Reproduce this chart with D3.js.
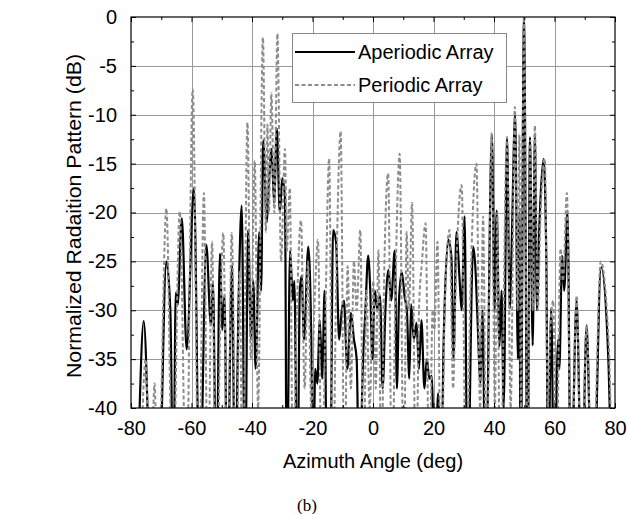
<!DOCTYPE html>
<html>
<head>
<meta charset="utf-8">
<script src="https://cdn.jsdelivr.net/npm/d3@7"></script>
<style>
  body { margin: 0; background: #fff; }
  svg { display: block; }
  text { font-family: "Liberation Sans", Arial, sans-serif; fill: #000; }
</style>
</head>
<body>
<svg id="chart" width="627" height="514"></svg>
<script>
// tick values
const xTicks = [-80, -60, -40, -20, 0, 20, 40, 60, 80]
const yTicks = [0, -5, -10, -15, -20, -25, -30, -35, -40]
const seriesNames = ['Aperiodic Array', 'Periodic Array']

// [azimuth deg, normalized pattern dB] (nulls below -40 are clipped)
const aperiodic = [
  [-80,-44],[-78.6,-50],[-75.8,-31.1],[-73.2,-50],[-70.9,-50],[-68.3,-25],[-67,-30],[-66,-50],
  [-65.2,-28.2],[-64.6,-29.5],[-63.2,-20.6],[-61.6,-34],[-59.2,-17.5],[-57.3,-50],
  [-55.1,-23.3],[-53.6,-31.5],[-52.9,-27.2],[-51.8,-50],[-50.6,-24.2],[-49.8,-32],[-49.1,-28.5],[-48.2,-50],
  [-46.6,-25.4],[-45.6,-50],[-44.4,-28.5],[-43.4,-19.3],[-42.3,-50],[-41.3,-21.8],[-40.3,-33],[-39.6,-27],[-38.8,-36],
  [-37.6,-22],[-37,-28],[-36.3,-12.6],[-35.1,-21],[-34.4,-17],[-33.5,-13.5],[-32.7,-19],[-31.8,-11.4],
  [-30.8,-20],[-30,-16.5],[-29.1,-18.5],[-28.5,-50],[-27.4,-23.9],[-26.5,-29],[-26,-27],[-25,-50],
  [-24.2,-28],[-23.6,-26.5],[-22.8,-33],[-21.4,-23.5],[-20.3,-35],[-19.8,-50],[-19.1,-36],[-18.4,-37.5],
  [-17.6,-31],[-16.8,-37],[-16,-28],[-15.2,-50],[-14.2,-50],[-13.2,-21.8],[-12.2,-23],[-11.2,-33],
  [-10.3,-30],[-9.6,-29],[-8.5,-36],[-7.3,-30.3],[-6.3,-33],[-5.4,-35],[-4.5,-50],[-3.4,-36],[-2.5,-30],
  [-1.6,-24.4],[-0.9,-28],[-0.2,-35],[0.6,-28],[1.5,-30],[2.3,-28.5],[3.2,-38],[4.1,-30],[5.1,-25.9],
  [6,-29],[7.2,-23.9],[7.9,-38],[8.6,-29],[9.5,-26.1],[10.5,-28.7],[11.2,-30],[12,-37],[12.6,-29.4],
  [13.5,-33],[14.4,-31.3],[15.2,-36],[16,-31],[17,-38],[17.8,-35],[18.6,-37],[19.4,-36.7],[20.5,-50],
  [21.5,-38.5],[22.5,-50],[23.3,-34],[24.9,-22.8],[25.9,-24.5],[26.6,-35],[27.6,-22],[28.6,-26.7],
  [29.3,-30],[30.3,-20.4],[31.2,-50],[33.1,-23.5],[33.8,-25.4],[34.6,-31.3],[35.5,-37.4],[36.2,-30],
  [37.2,-50],[39.3,-12],[40.2,-30],[40.9,-19.8],[41.8,-33.7],[42.5,-28],[43.2,-40],[44.3,-12.3],
  [45.2,-29.8],[45.8,-24],[47,-9.9],[47.9,-35],[48.4,-20],[48.8,-50],[49.9,-0.1],[51.1,-50],
  [51.9,-12.3],[52.8,-33.6],[53.5,-12],[54.2,-30],[55,-21.4],[56.4,-14.5],[57.3,-25],[57.9,-50],
  [58.9,-29.8],[59.9,-50],[61.2,-33],[61.6,-36],[62.5,-24.4],[63.2,-28],[64.3,-19.8],[65.4,-50],
  [67.3,-29],[69,-50],[70.6,-31.6],[72.4,-50],[72.8,-50],[75.4,-25.6],[77.8,-35],[79.3,-50],[80,-46]
]

const periodic = [
  [-80,-50],[-77.6,-50],[-75.2,-35],[-73.6,-50],[-72.2,-37.5],[-71.1,-50],[-68.3,-19.6],[-66.2,-50],
  [-63.9,-19.9],[-61.7,-50],[-59.6,-7.4],[-57.6,-50],[-55.9,-18],[-54.6,-50],[-53.2,-23],[-52,-50],
  [-49.5,-22.1],[-48.1,-50],[-46.7,-22.1],[-45.2,-50],[-44.1,-26],[-43.1,-50],[-41.5,-10.8],[-40.4,-35],
  [-39.1,-14.7],[-38,-40],[-36.4,-2.1],[-35.4,-22],[-34.9,-11],[-34.4,-20],[-33.6,-7.8],[-32.6,-20],
  [-31.6,-1.7],[-30.4,-25],[-29.1,-13.5],[-28.5,-24],[-27.5,-17.5],[-26.4,-50],[-25.3,-32],[-23.8,-20.8],
  [-22.6,-38],[-21.5,-25],[-20.4,-40],[-19.4,-30],[-18.2,-22.8],[-16.9,-50],[-15.8,-32],[-14.5,-14.5],
  [-13.3,-50],[-12.2,-28],[-10.7,-11.7],[-9.4,-50],[-8.4,-25.5],[-7.3,-38],[-6.3,-25],[-5.4,-30],
  [-4.2,-21.8],[-3.1,-50],[-2.2,-28],[-1.1,-40],[0.1,-27],[0.9,-38],[1.8,-23.9],[2.8,-50],[3.6,-28],
  [5,-16],[6.3,-50],[7.3,-30],[8.8,-14],[10.2,-50],[11.1,-22],[11.9,-30],[12.9,-19],[14.2,-50],
  [15.2,-30],[16.2,-25],[17.4,-21.1],[18.6,-50],[19.7,-30],[20.3,-32],[21.3,-23],[22.5,-50],[23.7,-30],
  [25.3,-21.8],[26.5,-38],[27.3,-28],[29.3,-17.2],[30.8,-50],[32.2,-28],[34.2,-15],[35.4,-40],
  [36.4,-20.4],[37.5,-50],[39.2,-11.9],[40.3,-40],[41.1,-20],[42,-50],[44.3,-12.3],[45.5,-40],
  [46.9,-9.2],[47.8,-30],[48.4,-12],[48.9,-40],[49.9,0],[51.2,-50],[52,-12.6],[52.8,-30],[53.5,-11.1],
  [54.5,-30],[55.2,-22],[56.8,-14.5],[57.8,-40],[58.6,-32],[59.6,-29],[60.5,-50],[62,-23.7],[62.8,-27],
  [64.1,-18],[65.5,-50],[67.3,-28.5],[68.9,-50],[70.6,-31.5],[72.5,-50],[75.3,-25],[78,-34],[79.5,-50],[80,-50]
]

const svg = d3.select('#chart')
const plotLeft = 131, plotRight = 615, plotTop = 17, plotBottom = 408

const x = d3.scaleLinear().domain([-80, 80]).range([plotLeft, plotRight])
const y = d3.scaleLinear().domain([-40, 0]).range([plotBottom, plotTop])

// grid
const grid = svg.append('g').attr('stroke', '#9a9a9a').attr('stroke-width', 1)
grid.selectAll('line.vx')
  .data(xTicks.slice(1, -1))
  .enter().append('line')
  .attr('x1', d => Math.round(x(d)) + 0.5).attr('x2', d => Math.round(x(d)) + 0.5)
  .attr('y1', plotTop).attr('y2', plotBottom)
grid.selectAll('line.hy')
  .data(yTicks.slice(1, -1))
  .enter().append('line')
  .attr('y1', d => Math.round(y(d)) + 0.5).attr('y2', d => Math.round(y(d)) + 0.5)
  .attr('x1', plotLeft).attr('x2', plotRight)

// curves
svg.append('clipPath').attr('id', 'plotclip')
  .append('rect').attr('x', plotLeft).attr('y', plotTop - 2)
  .attr('width', plotRight - plotLeft).attr('height', plotBottom - plotTop + 2)

const line = d3.line()
  .x(d => x(d[0]))
  .y(d => y(d[1]))
  .curve(d3.curveMonotoneX)

const curves = svg.append('g').attr('clip-path', 'url(#plotclip)')
curves.append('path')
  .datum(aperiodic)
  .attr('fill', 'none')
  .attr('stroke', '#000')
  .attr('stroke-width', 2.2)
  .attr('d', line)
curves.append('path')
  .datum(periodic)
  .attr('fill', 'none')
  .attr('stroke', '#8c8c8c')
  .attr('stroke-width', 2)
  .attr('stroke-dasharray', '4,2.5')
  .attr('d', line)

// axes, ticks pointing inward
const xMinor = d3.range(-70, 80, 20)
const yMinor = d3.range(-37.5, 0, 5)
const plain = d => String(d)   // hyphen minus like the original

function styleAxis(g) {
  g.select('.domain').remove()
  g.selectAll('line').attr('stroke', '#000')
  g.selectAll('text').style('font-size', '20px').attr('font-family', null)
}

svg.append('g')
  .attr('transform', `translate(0,${plotBottom})`)
  .call(d3.axisBottom(x).tickValues(xTicks).tickFormat(plain).tickSize(-5).tickPadding(13))
  .call(styleAxis)
svg.append('g')
  .attr('transform', `translate(0,${plotBottom})`)
  .call(d3.axisBottom(x).tickValues(xMinor).tickSize(-3).tickFormat(''))
  .call(styleAxis)
svg.append('g')
  .attr('transform', `translate(0,${plotTop})`)
  .call(d3.axisTop(x).tickValues(xTicks).tickSize(-5).tickFormat(''))
  .call(styleAxis)
svg.append('g')
  .attr('transform', `translate(0,${plotTop})`)
  .call(d3.axisTop(x).tickValues(xMinor).tickSize(-3).tickFormat(''))
  .call(styleAxis)

svg.append('g')
  .attr('transform', `translate(${plotLeft},0)`)
  .call(d3.axisLeft(y).tickValues(yTicks).tickFormat(plain).tickSize(-5).tickPadding(14))
  .call(styleAxis)
svg.append('g')
  .attr('transform', `translate(${plotLeft},0)`)
  .call(d3.axisLeft(y).tickValues(yMinor).tickSize(-3).tickFormat(''))
  .call(styleAxis)
svg.append('g')
  .attr('transform', `translate(${plotRight},0)`)
  .call(d3.axisRight(y).tickValues(yTicks).tickSize(-5).tickFormat(''))
  .call(styleAxis)
svg.append('g')
  .attr('transform', `translate(${plotRight},0)`)
  .call(d3.axisRight(y).tickValues(yMinor).tickSize(-3).tickFormat(''))
  .call(styleAxis)

// frame
svg.append('rect')
  .attr('x', plotLeft).attr('y', plotTop)
  .attr('width', plotRight - plotLeft).attr('height', plotBottom - plotTop)
  .attr('fill', 'none').attr('stroke', '#000').attr('stroke-width', 1.2)

// axis titles
svg.append('text')
  .attr('x', (plotLeft + plotRight) / 2).attr('y', 468)
  .attr('text-anchor', 'middle')
  .style('font-size', '20px')
  .text('Azimuth Angle (deg)')
svg.append('text')
  .attr('transform', 'translate(81,216) rotate(-90)')
  .attr('text-anchor', 'middle')
  .attr('textLength', 324)
  .attr('lengthAdjust', 'spacingAndGlyphs')
  .style('font-size', '20px')
  .text('Normalized Radaition Pattern (dB)')

svg.append('text')
  .attr('x', 307).attr('y', 511)
  .attr('text-anchor', 'middle')
  .style('font-family', '"Liberation Serif", "Times New Roman", serif')
  .style('font-size', '17px')
  .text('(b)')

// legend
const legend = svg.append('g')
legend.append('rect')
  .attr('x', 292.5).attr('y', 33.5).attr('width', 214).attr('height', 69)
  .attr('fill', '#fff').attr('stroke', '#888').attr('stroke-width', 1)
const legendStyles = [
  { stroke: '#000', width: 2.2, dash: null },
  { stroke: '#8c8c8c', width: 2, dash: '4,2.5' }
]
seriesNames.forEach((name, i) => {
  const ly = 52 + i * 33
  legend.append('line')
    .attr('x1', 295).attr('x2', 355).attr('y1', ly).attr('y2', ly)
    .attr('stroke', legendStyles[i].stroke)
    .attr('stroke-width', legendStyles[i].width)
    .attr('stroke-dasharray', legendStyles[i].dash)
  legend.append('text')
    .attr('x', 358).attr('y', ly + 7)
    .style('font-size', '20px')
    .text(name)
})
</script>
</body>
</html>
